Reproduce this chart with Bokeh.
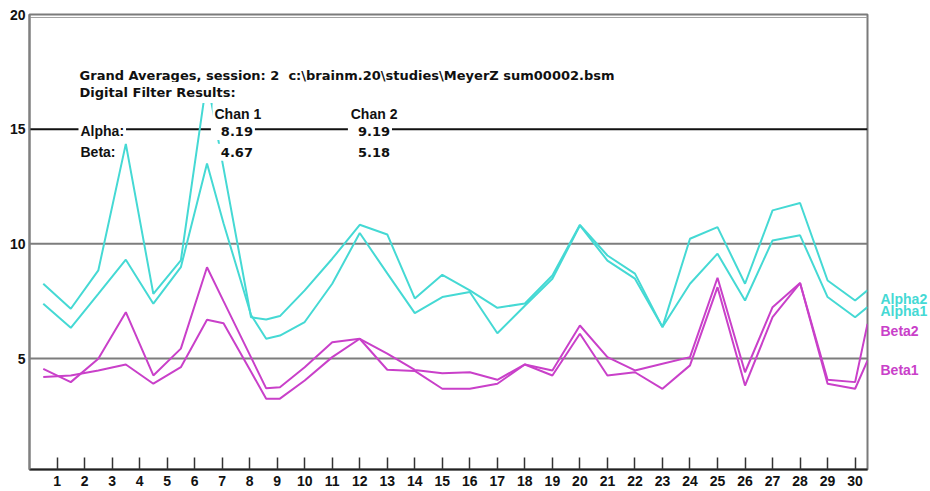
from bokeh.plotting import figure
from bokeh.models import Label, Span, FixedTicker, Range1d, ColumnDataSource
from bokeh.layouts import row
from bokeh.core.properties import value
from bokeh.embed import file_html
from bokeh.resources import INLINE

# ---- data ----
x_pos = [0.5, 1.5, 2.5, 3.5, 4.5, 5.5, 6.45, 7.05, 8.05, 8.6, 9.1,
         10, 11, 12, 13, 14, 15, 16, 17, 18, 19, 20,
         21, 22, 23, 24, 25, 26, 27, 28, 29, 30, 30.45]

alpha2 = [8.26, 7.17, 8.84, 14.36, 7.82, 9.28, 17.2, 13.3, 6.8, 6.7, 6.85,
          7.97, 9.35, 10.83, 10.41, 7.62, 8.65, 7.97, 7.21, 7.4, 8.62, 10.83,
          9.49, 8.7, 6.37, 10.22, 10.73, 8.26, 11.46, 11.78, 8.4, 7.53, 7.97]
alpha1 = [7.39, 6.34, 7.82, 9.31, 7.39, 8.98, 13.5, 10.9, 6.9, 5.86, 6.0,
          6.59, 8.26, 10.47, 8.71, 6.98, 7.68, 7.9, 6.1, 7.3, 8.48, 10.8,
          9.27, 8.48, 6.37, 8.26, 9.57, 7.53, 10.15, 10.37, 7.68, 6.8, 7.24]
beta2 = [4.55, 3.97, 4.99, 7.02, 4.26, 5.43, 8.98, 7.5, 5.05, 3.7, 3.75,
         4.62, 5.71, 5.86, 5.21, 4.5, 4.36, 4.4, 4.07, 4.74, 4.48, 6.44,
         5.06, 4.48, 4.77, 5.06, 8.52, 4.4, 7.24, 8.29, 4.07, 3.97, 6.51]
beta1 = [4.19, 4.26, 4.48, 4.74, 3.9, 4.62, 6.69, 6.54, 4.42, 3.25, 3.25,
         4.04, 5.06, 5.86, 4.51, 4.46, 3.68, 3.68, 3.9, 4.74, 4.26, 6.08,
         4.26, 4.4, 3.68, 4.7, 8.11, 3.82, 6.8, 8.29, 3.9, 3.68, 4.91]

x_ticks = [1, 2, 3, 4, 5, 6, 7, 8, 9, 10, 11, 12, 13, 14, 15,
           16, 17, 18, 19, 20, 21, 22, 23, 24, 25, 26, 27, 28, 29, 30]
y_ticks = [5, 10, 15, 20]

series_names = ["Alpha2", "Alpha1", "Beta2", "Beta1"]
chan_names = ["Chan 1", "Chan 2"]
alpha_results = ["8.19", "9.19"]
beta_results = ["4.67", "5.18"]
title_line1 = "Grand Averages, session: 2\u00a0 c:\\brainm.20\\studies\\MeyerZ sum00002.bsm"
title_line2 = "Digital Filter Results:"

# ---- styling ----
CYAN = "#45D9D4"
MAGENTA = "#C940C9"
FONT = "Liberation Sans"
WIDE = "DejaVu Sans"

TOP, BOTTOM = 14, 22

p = figure(width=870, height=491, output_backend="svg", toolbar_location=None,
           x_range=Range1d(0, 30.45), y_range=Range1d(0.16, 20),
           min_border_left=29, min_border_right=3, min_border_top=TOP,
           min_border_bottom=BOTTOM)
p.background_fill_color = "white"
p.border_fill_color = "white"
p.outline_line_color = "#7a7a7a"
p.outline_line_width = 2
p.xgrid.visible = False
p.ygrid.visible = False

p.xaxis.ticker = FixedTicker(ticks=x_ticks)
p.xaxis.major_tick_in = 12
p.xaxis.major_tick_out = 0
p.xaxis.minor_tick_in = 0
p.xaxis.minor_tick_out = 0
p.xaxis.axis_line_color = "#222222"
p.xaxis.axis_line_width = 2
p.xaxis.major_tick_line_color = "#333333"
p.xaxis.major_tick_line_width = 1.5
p.xaxis.major_label_standoff = 6
p.xaxis.major_label_text_font = FONT
p.xaxis.major_label_text_font_style = "bold"
p.xaxis.major_label_text_font_size = "14px"
p.xaxis.major_label_text_color = "#111111"

p.yaxis.ticker = FixedTicker(ticks=y_ticks)
p.yaxis.major_tick_in = 0
p.yaxis.major_tick_out = 0
p.yaxis.minor_tick_in = 0
p.yaxis.minor_tick_out = 0
p.yaxis.axis_line_color = "#808080"
p.yaxis.axis_line_width = 2
p.yaxis.major_label_standoff = 4
p.yaxis.major_label_text_font = FONT
p.yaxis.major_label_text_font_style = "bold"
p.yaxis.major_label_text_font_size = "14px"
p.yaxis.major_label_text_color = "#111111"

# horizontal reference lines
grid_colors = {5: "#7d7d7d", 10: "#7d7d7d", 15: "#111111"}
for t in y_ticks[:-1]:
    p.add_layout(Span(location=t, dimension="width", line_color=grid_colors[t],
                      line_width=2, level="underlay"))
# inner line of the double top border
p.add_layout(Span(location=y_ticks[-1] - 0.13, dimension="width",
                  line_color="#a0a0a0", line_width=1, level="underlay"))

# series
for ys, col in [(beta1, MAGENTA), (beta2, MAGENTA), (alpha1, CYAN), (alpha2, CYAN)]:
    p.line(x_pos, ys, line_color=col, line_width=2)

def add_text(x, y, txt, font=FONT, size="14px", pad=2):
    p.add_layout(Label(x=x, y=y, text=txt, text_font=font, text_font_style="bold",
                       text_font_size=size, text_color="#111111", text_baseline="middle",
                       text_align="left", background_fill_color="white", padding=pad))

NUM_PAD = dict(left=10, right=2, top=4, bottom=4)

# info block
add_text(1.71, 17.34, title_line1, font=WIDE, size="13px", pad=3)
add_text(1.71, 16.6, title_line2, font=WIDE, size="13px", pad=3)
for cx, name in zip([6.65, 11.6], chan_names):
    add_text(cx, 15.64, name)
add_text(1.78, 14.9, "Alpha:")
add_text(1.78, 13.99, "Beta:")
for cx, a, b in zip([6.59, 11.57], alpha_results, beta_results):
    add_text(cx, 14.9, a, font=WIDE, size="13px", pad=NUM_PAD)
    add_text(cx, 13.99, b, font=WIDE, size="13px", pad=NUM_PAD)

# series labels at the right, in a narrow companion panel sharing the y scale
label_y = [7.58, 7.05, 6.18, 4.52]
label_col = [CYAN, CYAN, MAGENTA, MAGENTA]
side = figure(width=60, height=491, output_backend="svg", toolbar_location=None,
              x_range=Range1d(0, 60), y_range=p.y_range,
              min_border_left=0, min_border_right=0, min_border_top=TOP,
              min_border_bottom=BOTTOM)
side.axis.visible = False
side.grid.visible = False
side.outline_line_color = None
side.background_fill_color = "white"
side.border_fill_color = "white"
src = ColumnDataSource(dict(x=[10] * len(series_names), y=label_y,
                            t=series_names, c=label_col))
side.text(x="x", y="y", text="t", text_color="c", source=src,
          text_font=value(FONT), text_font_style="bold", text_font_size="14px",
          text_baseline="middle", text_align="left")

layout = row(p, side, spacing=0)
open("out.html", "w").write(file_html(layout, INLINE))
